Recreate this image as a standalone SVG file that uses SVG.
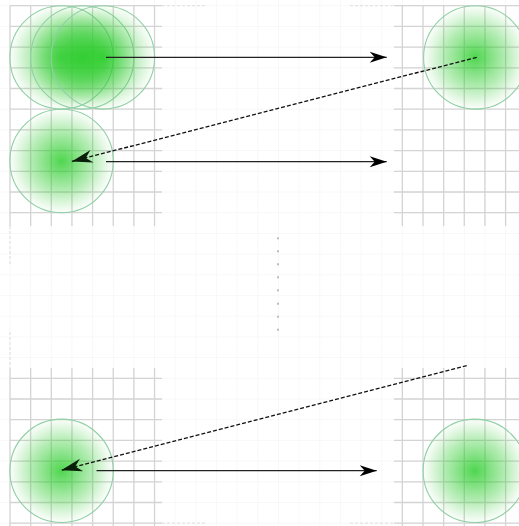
<svg xmlns="http://www.w3.org/2000/svg" width="519" height="526" viewBox="0 0 519 526">
  <style>
    .bg { stroke: #f8f8f8; stroke-width: 1; fill: none; }
    .grid { stroke: #d4d4d4; stroke-width: 1.3; fill: none; }
    .fade { stroke: #e4e4e4; stroke-width: 1.3; stroke-dasharray: 3 2; fill: none; }
    .node { fill: url(#glow); stroke: #8fd0a4; stroke-width: 1.1; }
    .solid { stroke: #222; stroke-width: 1.2; fill: none; marker-end: url(#head); }
    .dashed { stroke: #111; stroke-width: 1.3; stroke-dasharray: 4 2; fill: none; marker-end: url(#head2); }
    .dot { fill: #bdbdbd; }
  </style>
  <defs>
    <radialGradient id="glow" cx="0.5" cy="0.5" r="0.5">
      <stop offset="0" stop-color="#22cc22" stop-opacity="0.8"/>
      <stop offset="0.6" stop-color="#33cc33" stop-opacity="0.36"/>
      <stop offset="1" stop-color="#44cc44" stop-opacity="0.02"/>
    </radialGradient>
    <marker id="head" viewBox="-18 -6 19 12" markerWidth="19" markerHeight="12" refX="0" refY="0" orient="auto" markerUnits="userSpaceOnUse">
      <path d="M0,0 L-17,-5.5 L-12,0 L-17,5.5 Z" fill="#000"/>
    </marker>
    <marker id="head2" viewBox="-22 -7 23 14" markerWidth="23" markerHeight="14" refX="0" refY="0" orient="auto" markerUnits="userSpaceOnUse">
      <path d="M0,0 L-21,-6.5 L-14.5,0 L-21,6.5 Z" fill="#0a1f0a"/>
    </marker>
  </defs>

  <!-- faint background grid -->
  <g id="background-grid" class="bg">
    <path d="M10,0V526M30.65,0V526M51.3,0V526M71.95,0V526M92.6,0V526M113.25,0V526M133.9,0V526M154.55,0V526M175.2,0V526M195.85,0V526M216.5,0V526M237.15,0V526M257.8,0V526M278.45,0V526M299.1,0V526M319.75,0V526M340.4,0V526M361.05,0V526M381.7,0V526M402.35,0V526M423,0V526M443.65,0V526M464.3,0V526M484.95,0V526M505.6,0V526"/>
    <path d="M0,5.7H519M0,26.4H519M0,47.1H519M0,67.8H519M0,88.5H519M0,109.2H519M0,129.9H519M0,150.6H519M0,171.3H519M0,192H519M0,212.7H519M0,233.4H519M0,254.1H519M0,274.8H519M0,295.5H519M0,316.2H519M0,336.9H519M0,357.6H519M0,378.3H519M0,399H519M0,419.7H519M0,440.4H519M0,461.1H519M0,481.8H519M0,502.5H519M0,523.2H519"/>
  </g>

  <!-- strong grid blocks -->
  <g id="grid-top-left" class="grid">
    <path d="M10,5.7V226M30.65,5.7V226M51.3,5.7V226M71.95,5.7V226M92.6,5.7V226M113.25,5.7V226M133.9,5.7V226M154.55,5.7V226"/>
    <path d="M10,5.7H162M10,26.4H162M10,47.1H162M10,67.8H162M10,88.5H162M10,109.2H162M10,129.9H162M10,150.6H162M10,171.3H162M10,192H162M10,212.7H162"/>
  </g>
  <g id="grid-top-right" class="grid">
    <path d="M402.35,5.7V226M423,5.7V226M443.65,5.7V226M464.3,5.7V226M484.95,5.7V226M505.6,5.7V226"/>
    <path d="M394,5.7H519M394,26.4H519M394,47.1H519M394,67.8H519M394,88.5H519M394,109.2H519M394,129.9H519M394,150.6H519M394,171.3H519M394,192H519M394,212.7H519"/>
  </g>
  <g id="grid-bottom-left" class="grid">
    <path d="M10,368V526M30.65,368V526M51.3,368V526M71.95,368V526M92.6,368V526M113.25,368V526M133.9,368V526M154.55,368V526"/>
    <path d="M10,378.3H162M10,399H162M10,419.7H162M10,440.4H162M10,461.1H162M10,481.8H162M10,502.5H162M10,523.2H162"/>
  </g>
  <g id="grid-bottom-right" class="grid">
    <path d="M402.35,368V526M423,368V526M443.65,368V526M464.3,368V526M484.95,368V526M505.6,368V526"/>
    <path d="M394,378.3H519M394,399H519M394,419.7H519M394,440.4H519M394,461.1H519M394,481.8H519M394,502.5H519M394,523.2H519"/>
  </g>
  <g id="grid-fades" class="fade">
    <path d="M162,5.7H206M350,5.7H394M162,523.2H206M350,523.2H394M10,226V264M10,332V368"/>
  </g>

  <!-- nodes -->
  <g id="node-a1"><circle class="node" cx="61.6" cy="57.4" r="51.7"/></g>
  <g id="node-a2"><circle class="node" cx="82.3" cy="57.4" r="51.7"/></g>
  <g id="node-a3"><circle class="node" cx="102.9" cy="57.4" r="51.7"/></g>
  <g id="node-b"><circle class="node" cx="61.6" cy="161" r="51.7"/></g>
  <g id="node-c"><circle class="node" cx="475.3" cy="57.4" r="51.7"/></g>
  <g id="node-d"><circle class="node" cx="61.6" cy="470.8" r="51.7"/></g>
  <g id="node-e"><circle class="node" cx="474.8" cy="470.8" r="51.7"/></g>

  <!-- vertical ellipsis -->
  <g id="ellipsis">
    <rect class="dot" x="277" y="237.3" width="2" height="2"/>
    <rect class="dot" x="277" y="250.3" width="2" height="2"/>
    <rect class="dot" x="277" y="263.3" width="2" height="2"/>
    <rect class="dot" x="277" y="276.3" width="2" height="2"/>
    <rect class="dot" x="277" y="289.3" width="2" height="2"/>
    <rect class="dot" x="277" y="302.7" width="2" height="2"/>
    <rect class="dot" x="277" y="315.7" width="2" height="2"/>
    <rect class="dot" x="277" y="328.7" width="2" height="2"/>
  </g>

  <!-- connectors -->
  <g id="connectors">
    <path class="solid" d="M106,57.3H386.7"/>
    <path class="solid" d="M106,161.7H386.7"/>
    <path class="dashed" d="M476.7,57.3L71.7,161.5"/>
    <path class="solid" d="M96.5,470.7H376.7"/>
    <path class="dashed" d="M466.7,365.7L61.2,470.2"/>
  </g>
</svg>
